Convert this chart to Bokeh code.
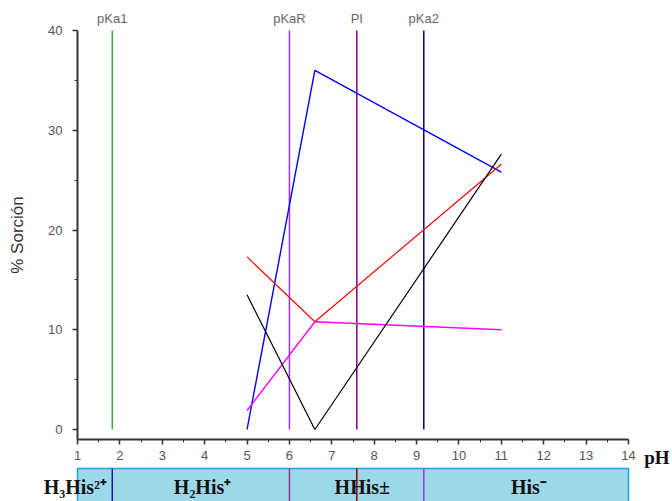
from bokeh.plotting import figure
from bokeh.models import Range1d, SingleIntervalTicker, Label
from bokeh.embed import file_html
from bokeh.resources import INLINE

# ---- data ----
ph = [5.0, 6.6, 11.0]
blue_vals = [0.0, 36.0, 25.8]
red_vals = [17.3, 10.8, 26.6]
magenta_vals = [1.9, 10.8, 10.0]
black_vals = [13.5, 0.0, 27.6]

pk_names = ["pKa1", "pKaR", "PI", "pKa2"]
pk_values = [1.82, 6.0, 7.59, 9.17]
pk_colors = ["#3aa83a", "#9b30ff", "#800080", "#00008b"]

species = ["H\u2083His\u00b2\u207a", "H\u2082His\u207a", "HHis\u00b1", "His\u207b"]
species_x = [0.95, 3.95, 7.72, 11.65]
band_dividers = [1.82, 6.0, 7.59, 9.17]
band_div_colors = ["#1c1ca0", "#993399", "#8b0000", "#9933ff"]

# layout positions (not data)
Y_AXIS_BOTTOM = -1.05
BAND_TOP = -3.91
BAND_BOTTOM = -7.6
BAND_TEXT_Y = -5.75

p = figure(width=672, height=501,
           x_range=Range1d(-0.817, 15.038), y_range=Range1d(-7.22, 43.01),
           output_backend="svg", toolbar_location=None,
           min_border_left=0, min_border_right=0, min_border_top=0, min_border_bottom=0)
p.outline_line_color = None
p.grid.grid_line_color = None
p.background_fill_color = "white"

# axes at fixed positions
p.xaxis.fixed_location = Y_AXIS_BOTTOM
p.yaxis.fixed_location = 1
p.xaxis.ticker = SingleIntervalTicker(interval=1, num_minor_ticks=2)
p.yaxis.ticker = SingleIntervalTicker(interval=10, num_minor_ticks=2)
p.xaxis.bounds = (1, 14)
p.yaxis.bounds = (Y_AXIS_BOTTOM, 40)
for ax in [p.xaxis[0], p.yaxis[0]]:
    ax.axis_line_color = "#333333"
    ax.axis_line_width = 2
    ax.major_tick_line_color = "#333333"
    ax.minor_tick_line_color = "#333333"
    ax.major_tick_line_width = 1.5
    ax.major_tick_out = 5
    ax.major_tick_in = 0
    ax.minor_tick_out = 3
    ax.minor_tick_in = 0
    ax.major_label_text_font = "Liberation Sans"
    ax.major_label_text_font_size = "13px"
    ax.major_label_text_color = "#555555"
p.yaxis.major_label_standoff = 10
p.xaxis.major_label_standoff = 6
p.yaxis.axis_label = "% Sorción"
p.yaxis.axis_label_text_font = "Liberation Sans"
p.yaxis.axis_label_text_font_style = "normal"
p.yaxis.axis_label_text_font_size = "17px"
p.yaxis.axis_label_text_color = "#333333"
p.yaxis.axis_label_standoff = 18

# vertical reference lines with labels
for name, v, c in zip(pk_names, pk_values, pk_colors):
    p.line([v, v], [0, 40], line_color=c, line_width=1.5)
    p.add_layout(Label(x=v, y=41.2, text=name, text_align="center", text_baseline="middle",
                       text_font="Liberation Sans", text_font_size="13px", text_color="#666666"))

# data series
p.line(ph, blue_vals, line_color="#0000ff", line_width=1.4)
p.line(ph, red_vals, line_color="#ff0000", line_width=1.2)
p.line(ph, magenta_vals, line_color="#ff00ff", line_width=1.4)
p.line(ph, black_vals, line_color="#000000", line_width=1.2)

# pH label
p.add_layout(Label(x=14.37, y=-2.8, text="pH", text_align="left", text_baseline="middle",
                   text_font="Liberation Serif", text_font_style="bold", text_font_size="19px",
                   text_color="#111111"))

# species band
p.quad(left=[1], right=[14], bottom=[BAND_BOTTOM], top=[BAND_TOP], fill_color="#9ed9ea",
       line_color="#1ea0e6", line_width=1.5)
for v, c in zip(band_dividers, band_div_colors):
    p.line([v, v], [BAND_TOP, BAND_BOTTOM], line_color=c, line_width=1.5)
for s, x in zip(species, species_x):
    p.add_layout(Label(x=x, y=BAND_TEXT_Y, text=s, text_align="center", text_baseline="middle",
                       text_font="Liberation Serif", text_font_style="bold", text_font_size="20px",
                       text_color="#111111"))

open("out.html", "w").write(file_html(p, INLINE))
